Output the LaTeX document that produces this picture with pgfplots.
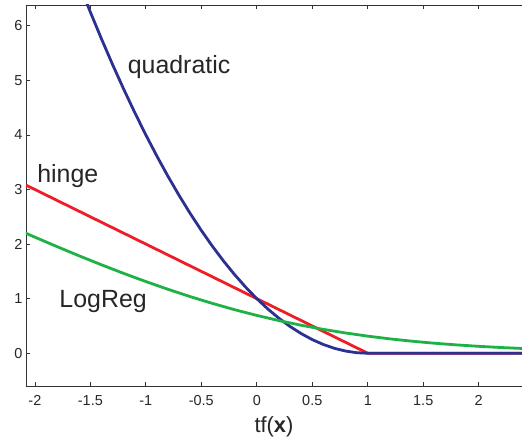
\documentclass[border=0pt]{standalone}
\usepackage{fontspec}
\setmainfont{Liberation Sans}
\usepackage{pgfplots}
\pgfplotsset{compat=1.18}
\definecolor{qblue}{RGB}{43,48,145}
\definecolor{hred}{RGB}{237,30,40}
\definecolor{lgreen}{RGB}{30,178,70}

\begin{document}
\begin{tikzpicture}
\begin{axis}[
    name=ax,
    scale only axis,
    width=496bp, height=381bp,
    xmin=-2.08, xmax=2.39,
    ymin=-0.6, ymax=6.38,
    xtick={-2,-1.5,-1,-0.5,0,0.5,1,1.5,2},
    xticklabels={-2,-1.5,-1,-0.5,0,0.5,1,1.5,2},
    ytick={0,1,2,3,4,5,6},
    separate axis lines,
    axis x line*=box,
    axis y line*=left,
    tick align=inside,
    major tick length=4bp,
    axis line style={black!80, line width=0.9bp},
    tick style={black!80, line width=0.7bp},
    tick label style={font=\fontsize{14.5}{17}\selectfont, black!85},
    xticklabel style={yshift=-6bp},
    /pgf/number format/assume math mode=true,
    xlabel={tf(\textbf{x})},
    xlabel style={font=\fontsize{22}{25}\selectfont, black!85, yshift=-4bp},
    clip=true,
]

%% hinge
\addplot[hred, line width=2.8bp] coordinates {
  (-2.08,3.08) (1,0) (2.39,0)
};

%% quadratic (squared hinge)
\addplot[qblue, line width=2.8bp] coordinates {
  (-1.6,6.76) (-1.5,6.25) (-1.4,5.76) (-1.3,5.29) (-1.2,4.84) (-1.1,4.41)
  (-1.0,4.00) (-0.9,3.61) (-0.8,3.24) (-0.7,2.89) (-0.6,2.56) (-0.5,2.25)
  (-0.4,1.96) (-0.3,1.69) (-0.2,1.44) (-0.1,1.21) (0,1.00) (0.1,0.81)
  (0.2,0.64) (0.3,0.49) (0.4,0.36) (0.5,0.25) (0.6,0.16) (0.7,0.09)
  (0.8,0.04) (0.9,0.01) (1.0,0) (2.39,0)
};

%% logistic regression
\addplot[lgreen, line width=2.8bp] coordinates {
  (-2.1,2.2155) (-2.0,2.1269) (-1.8,1.9530) (-1.6,1.7838) (-1.4,1.6205)
  (-1.2,1.4633) (-1.0,1.3133) (-0.8,1.1711) (-0.6,1.0375) (-0.4,0.9130)
  (-0.2,0.7981) (0,0.6931) (0.2,0.5981) (0.4,0.5130) (0.6,0.4375)
  (0.8,0.3711) (1.0,0.3133) (1.2,0.2633) (1.4,0.2204) (1.6,0.1839)
  (1.8,0.1530) (2.0,0.1269) (2.2,0.1051) (2.4,0.0868)
};

\node[anchor=base west, font=\fontsize{25}{29}\selectfont, black!85, inner sep=0pt]
  at (axis cs:-1.164,5.13) {quadratic};
\node[anchor=base west, font=\fontsize{25}{29}\selectfont, black!85, inner sep=0pt]
  at (axis cs:-1.98,3.13) {hinge};
\node[anchor=base west, font=\fontsize{25}{29}\selectfont, black!85, inner sep=0pt]
  at (axis cs:-1.78,0.84) {LogReg};
\end{axis}
\pgfresetboundingbox
\path[use as bounding box] ([xshift=-26bp,yshift=-60bp]ax.south west)
  rectangle ([yshift=5bp]ax.north east);
\end{tikzpicture}
\end{document}
